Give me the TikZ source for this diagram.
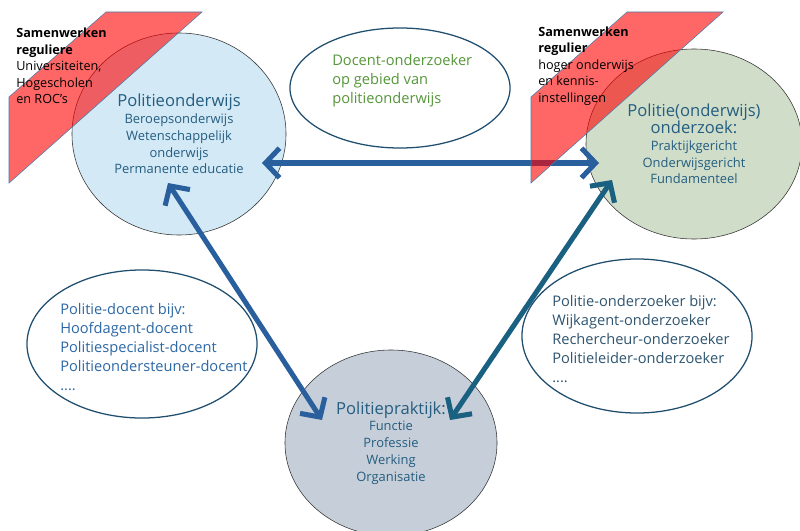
\documentclass[tikz,border=0pt]{standalone}
\usepackage{fontspec}
\setmainfont{Open Sans}
\usetikzlibrary{shapes.geometric, arrows.meta, positioning}

\definecolor{skyfill}{HTML}{D3E9F6}
\definecolor{sagefill}{HTML}{D0DEC9}
\definecolor{slatefill}{HTML}{C6CFD9}
\definecolor{kopblue}{HTML}{245D80}
\definecolor{listblue}{HTML}{2C68A5}
\definecolor{listteal}{HTML}{2F5570}
\definecolor{leafgreen}{HTML}{55963A}
\definecolor{bubbleline}{HTML}{1F4E6E}
\definecolor{linkblue}{HTML}{2A5F9E}
\definecolor{linkteal}{HTML}{1A6080}
\definecolor{stripline}{HTML}{4A7EA8}

\newcommand{\kop}[1]{{\fontsize{11.8}{14.5}\selectfont #1}}

\begin{document}
\begin{tikzpicture}[
        x=0.025cm, y=-0.025cm,
        circ/.style={ellipse, draw=black!80, thin, align=center, inner sep=0pt, text=kopblue, font=\fontsize{9.2}{12}\selectfont},
        bubble/.style={ellipse, draw=bubbleline, line width=0.9pt, fill=white, inner sep=0pt},
        listtext/.style={align=left, anchor=west, inner sep=0pt, font=\fontsize{10.4}{13.5}\selectfont},
        striptext/.style={align=left, anchor=west, inner sep=0pt, font=\fontsize{9}{11.8}\selectfont},
        strip/.style={fill=red, fill opacity=0.6, draw=stripline, thin},
        link/.style={{Straight Barb[length=3.5mm,width=7.4mm]}-{Straight Barb[length=3.5mm,width=7.4mm]}, line width=3.6pt}
    ]
        \useasboundingbox (0,0) rectangle (800,531);

        % Circles
        \node[circ, fill=skyfill, minimum width=5.35cm, minimum height=5.05cm] (onderwijs) at (179,134)
            {\kop{Politieonderwijs}\\Beroepsonderwijs\\Wetenschappelijk\\onderwijs\\Permanente educatie};
        \node[circ, fill=sagefill, minimum width=5.4cm, minimum height=4.75cm] (onderzoek) at (694,144)
            {\kop{Politie(onderwijs)}\\\kop{onderzoek:}\\Praktijkgericht\\Onderwijsgericht\\Fundamenteel};
        \node[circ, fill=slatefill, minimum width=5.3cm, minimum height=4.65cm] (praktijk) at (391,443)
            {\kop{Politiepraktijk:}\\Functie\\Professie\\Werking\\Organisatie};

        % Bubbles
        \node[bubble, minimum width=5.5cm, minimum height=3cm] (docentbub) at (400,88) {};
        \node[listtext, text=leafgreen] (docenttxt) at (332,81)
            {Docent-onderzoeker\\op gebied van\\politieonderwijs};
        \node[bubble, minimum width=5.75cm, minimum height=3.7cm] (leraarbub) at (142,344) {};
        \node[listtext, text=listblue] (leraartxt) at (60,347)
            {Politie-docent bijv:\\Hoofdagent-docent\\Politiespecialist-docent\\Politieondersteuner-docent\\....};
        \node[bubble, minimum width=5.75cm, minimum height=3.85cm] (zoekerbub) at (637,336) {};
        \node[listtext, text=listteal] (zoekertxt) at (552,339)
            {Politie-onderzoeker bijv:\\Wijkagent-onderzoeker\\Rechercheur-onderzoeker\\Politieleider-onderzoeker\\....};

        % Arrows
        \coordinate (hL) at (262,163);
        \coordinate (hR) at (599,163);
        \coordinate (dL1) at (168,183);
        \coordinate (dL2) at (322,420);
        \coordinate (dR1) at (612,180);
        \coordinate (dR2) at (450,420);
        \draw[link, linkblue] (hL) -- (hR);
        \draw[link, linkblue] (dL1) -- (dL2);
        \draw[link, linkteal] (dR1) -- (dR2);

        % Strips
        \draw[strip] (9,97) -- (106,12) -- (202,12) -- (9,183) -- cycle;
        \draw[strip] (531,97) -- (627,12) -- (723,12) -- (531,183) -- cycle;
        \node[striptext] (samenL) at (16,66)
            {\textbf{Samenwerken}\\\textbf{reguliere}\\Universiteiten,\\Hogescholen\\en ROC’s};
        \node[striptext] (samenR) at (538,66)
            {\textbf{Samenwerken}\\\textbf{regulier}\\hoger onderwijs\\en kennis-\\instellingen};

    \end{tikzpicture}
\end{document}
